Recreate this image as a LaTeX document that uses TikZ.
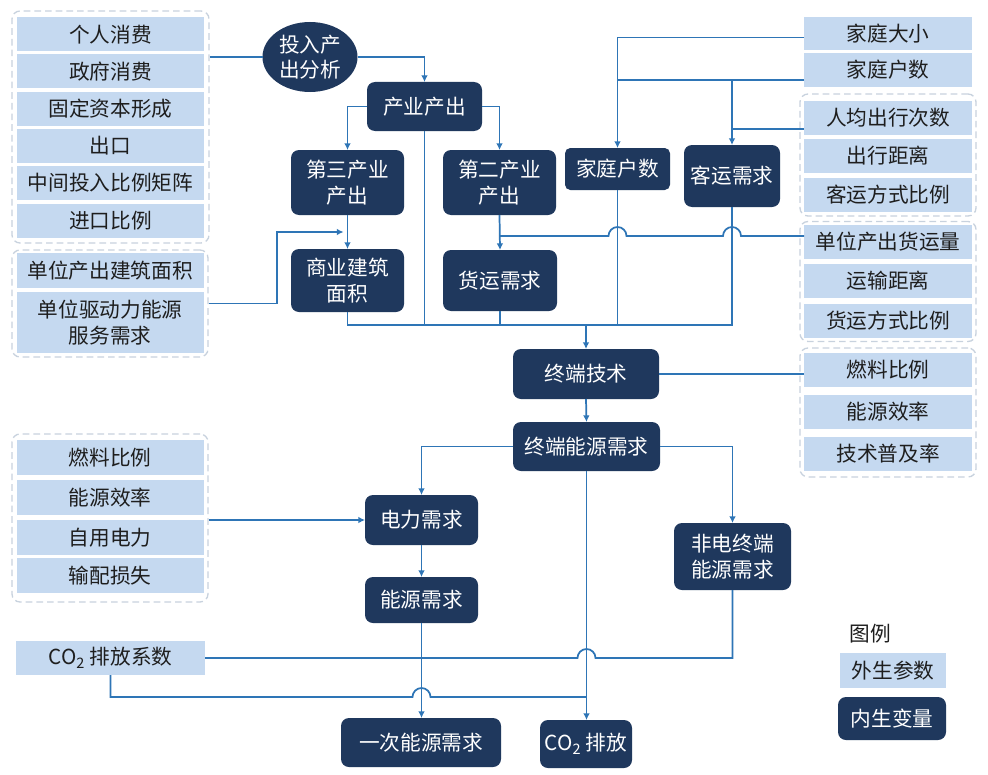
\documentclass[tikz,border=0pt]{standalone}
\usepackage{fontspec}
\newfontfamily\cjk{Noto Sans CJK SC}
\usetikzlibrary{shapes.geometric,calc,arrows.meta}
\definecolor{navy}{RGB}{31,56,93}
\definecolor{lblue}{RGB}{197,217,240}
\definecolor{lineblue}{RGB}{46,117,182}
\definecolor{grpgray}{RGB}{200,210,222}
\definecolor{txt}{RGB}{30,30,30}
\begin{document}
\begin{tikzpicture}[x=0.75pt,y=-0.75pt,
 sz/.style 2 args={minimum width=#1*0.75pt,minimum height=#2*0.75pt},
 base/.style={inner sep=0pt,outer sep=0pt,align=center,font=\cjk\fontsize{15.5pt}{19pt}\selectfont},
 exo/.style={base,fill=lblue,text=txt},
 endo/.style={base,fill=navy,text=white,rounded corners=6pt},
 grp/.style={draw=grpgray,line width=1pt,rounded corners=6pt,inner sep=0pt,dash pattern=on 5pt off 3pt},
 conn/.style={draw=lineblue,line width=1.3pt},
 arr/.style={conn,-{Latex[length=5pt,width=5pt]}},
]
\fill[white] (0,0) rectangle (988,774);
\useasboundingbox (0,0) rectangle (988,774);

% groups
\node[grp,sz={197}{232}] (g1) at (110.5,127) {};
\node[grp,sz={196}{107}] (g2) at (110,303.5) {};
\node[grp,sz={196}{168}] (g3) at (110,518) {};
\node[grp,sz={176}{122}] (gr1) at (888,155) {};
\node[grp,sz={176}{120}] (gr2) at (888,281.5) {};
\node[grp,sz={176}{129}] (gr3) at (888,412.5) {};

% exogenous left
\node[exo,sz={187}{34}] (e1) at (110.5,34.5) {个人消费};
\node[exo,sz={187}{34}] (e2) at (110.5,71.5) {政府消费};
\node[exo,sz={187}{34}] (e3) at (110.5,108.5) {固定资本形成};
\node[exo,sz={187}{34}] (e4) at (110.5,145.5) {出口};
\node[exo,sz={187}{34}] (e5) at (110.5,183) {中间投入比例矩阵};
\node[exo,sz={187}{34}] (e6) at (110.5,220.5) {进口比例};
\node[exo,sz={187}{35}] (e7) at (110,270.5) {单位产出建筑面积};
\node[exo,sz={187}{61}] (e8) at (110,322.5) {单位驱动力能源\\服务需求};
\node[exo,sz={187}{35}] (e9) at (110,457.5) {燃料比例};
\node[exo,sz={187}{35}] (e10) at (110,497.5) {能源效率};
\node[exo,sz={187}{35}] (e11) at (110,537.5) {自用电力};
\node[exo,sz={187}{35}] (e12) at (110,575.5) {输配损失};
\node[exo,sz={189}{34}] (e13) at (110.5,658) {CO\textsubscript{2} 排放系数};

% exogenous right
\node[exo,sz={168}{33}] (r1) at (888,33.5) {家庭大小};
\node[exo,sz={168}{34}] (r2) at (888,70) {家庭户数};
\node[exo,sz={168}{34}] (r3) at (888,118) {人均出行次数};
\node[exo,sz={168}{34}] (r4) at (888,155.5) {出行距离};
\node[exo,sz={168}{34}] (r5) at (888,194.5) {客运方式比例};
\node[exo,sz={168}{34}] (r6) at (888,242) {单位产出货运量};
\node[exo,sz={168}{34}] (r7) at (888,281) {运输距离};
\node[exo,sz={168}{34}] (r8) at (888,321) {货运方式比例};
\node[exo,sz={168}{34}] (r9) at (888,370) {燃料比例};
\node[exo,sz={168}{34}] (r10) at (888,411.5) {能源效率};
\node[exo,sz={168}{34}] (r11) at (888,453.5) {技术普及率};

% endogenous
\node[base,ellipse,fill=navy,text=white,sz={95}{70}] (io) at (310,57) {投入产\\出分析};
\node[endo,sz={115}{49}] (n1) at (424.5,106.5) {产业产出};
\node[endo,sz={113}{65}] (n2) at (347.5,182.5) {第三产业\\产出};
\node[endo,sz={113}{65}] (n3) at (499.5,182.5) {第二产业\\产出};
\node[endo,sz={105}{42},rounded corners=4pt] (n4) at (617.5,169) {家庭户数};
\node[endo,sz={96}{62}] (n5) at (732,176) {客运需求};
\node[endo,sz={113}{63}] (n6) at (347.5,280.5) {商业建筑\\面积};
\node[endo,sz={114}{61}] (n7) at (500,280.5) {货运需求};
\node[endo,sz={146}{50}] (n8) at (586,374) {终端技术};
\node[endo,sz={147}{49}] (n9) at (586.5,446.5) {终端能源需求};
\node[endo,sz={113}{50}] (n10) at (421.5,520) {电力需求};
\node[endo,sz={113}{46}] (n11) at (421.5,600) {能源需求};
\node[endo,sz={117}{67}] (n12) at (732.5,556.5) {非电终端\\能源需求};
\node[endo,sz={160}{49}] (n13) at (421,742.5) {一次能源需求};
\node[endo,sz={92}{48}] (n14) at (586,744) {CO\textsubscript{2} 排放};

% legend
\node[base,text=txt] (lg) at (870,634) {图例};
\node[exo,sz={106}{35}] (lg1) at (893,670.5) {外生参数};
\node[endo,sz={108}{43}] (lg2) at (892,718.5) {内生变量};

% helper coordinates
\coordinate (bus) at (0,325);
\coordinate (hh) at ($(r2.west)+(0,10)$);
\coordinate (pt) at ($(r3.west)+(0,11)$);
\coordinate (fr) at ($(r6.west)+(0,-6)$);
\coordinate (c1) at (e13.east);
\coordinate (c2) at ($(e13.south)+(0,22)$);

% top connections
\draw[conn] (g1.east |- io.west) -- (io.west);
\draw[arr] (io.east) -| (n1.north);
\draw[arr] (n1.west) -| (n2.north);
\draw[arr] (n1.east) -| (n3.north);
\draw[arr] (n2.south) -- (n6.north);
\draw[arr] (n3.south) -- (n7.north);
\draw[arr] (g2.east) -- ++(68,0) |- ($(n2.south)!0.5!(n6.north)+(-4,0)$);

\draw[arr] ($(r1.west)+(0,4)$) -| (n4.north);
\draw[conn] (hh) -- (n4.north |- hh);
\draw[arr] (n5.north |- hh) -- (n5.north);
\draw[conn] (pt) -- (n5.north |- pt);

\draw[conn] (fr) -- ($(n5.south |- fr)+(9,0)$) arc[start angle=0,end angle=180,radius=6.75pt]
  -- ($(n4.south |- fr)+(9,0)$) arc[start angle=0,end angle=180,radius=6.75pt]
  -- (n7.north |- fr);

% bus
\draw[conn] (n6.south) -- (n6.south |- bus) -- (n5.south |- bus) -- (n5.south);
\draw[conn] (n1.south) -- (n1.south |- bus);
\draw[conn] (n7.south) -- (n7.south |- bus);
\draw[conn] (n4.south) -- (n4.south |- bus);
\draw[arr] (n8.north |- bus) -- (n8.north);

% middle
\draw[conn] (n8.east) -- (r9.west |- n8.east);
\draw[arr] (n8.south) -- (n9.north);
\draw[arr] (n9.west) -| (n10.north);
\draw[arr] (n9.east) -| (n12.north);
\draw[arr] (g3.east |- n10.west) -- (n10.west);
\draw[arr] (n10.south) -- (n11.south |- n11.north);
\draw[arr] (n11.south) -- (n11.south |- n13.north);
\draw[arr] (n9.south) -- (n9.south |- n14.north);

% CO2 lines
\draw[conn] (c1) -- ($(n9.south |- c1)+(-9,0)$) arc[start angle=180,end angle=0,radius=6.75pt]
  -- (n12.south |- c1) -- (n12.south);
\draw[conn] (e13.south) -- (c2) -- ($(n11.south |- c2)+(-9,0)$) arc[start angle=180,end angle=0,radius=6.75pt]
  -- (n9.south |- c2);
\end{tikzpicture}
\end{document}
